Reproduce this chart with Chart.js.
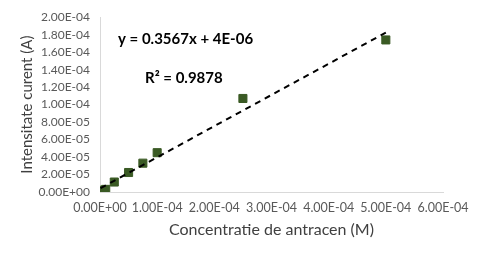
<!DOCTYPE html>
<html>
<head>
<meta charset="utf-8">
<script src="https://cdn.jsdelivr.net/npm/chart.js@4/dist/chart.umd.min.js"></script>
<style>
  html, body { margin: 0; padding: 0; background: #fff; }
  #wrap { width: 477px; height: 256px; }
</style>
</head>
<body>
<div id="wrap"><canvas id="chart" width="477" height="256"></canvas></div>
<script>
// data
const concentration = [0.000001, 0.000005, 0.00001, 0.000025, 0.00005, 0.000075, 0.0001, 0.00025, 0.0005];
const current = [0.0000005, 0.000002, 0.000003, 0.0000114, 0.0000223, 0.000033, 0.000045, 0.000107, 0.000174];
// trendline endpoints (y = 0.3567x + 4E-06)
const trendX = [0.000001, 0.0005];
const trendY = [0.0000044, 0.0001824];

const equationText = 'y = 0.3567x + 4E-06';
const r2Text = 'R² = 0.9878';

const font = 'Lato, Calibri, "Open Sans", sans-serif';

function sci(v) {
    // Excel style 0.00E+00
    let s = Number(v).toExponential(2).toUpperCase();
    return s.replace(/E([+-])(\d)$/, 'E$10$2');
}

const labelsPlugin = {
    id: 'trendLabels',
    afterDatasetsDraw(chart) {
        const c = chart.ctx;
        const a = chart.chartArea;
        c.save();
        c.fillStyle = '#000';
        c.font = 'bold 15px ' + font;
        c.textBaseline = 'middle';
        c.fillText(equationText, a.left + 18, 39);
        c.fillText(r2Text, a.left + 45, 78);
        c.restore();
    }
};

const ctx = document.getElementById('chart').getContext('2d');
const chart = new Chart(ctx, {
    type: 'scatter',
    data: {
        datasets: [
            {
                label: 'trend',
                type: 'line',
                data: trendX.map((x, i) => ({ x: x, y: trendY[i] })),
                borderColor: '#000',
                borderWidth: 2,
                borderDash: [6, 5],
                pointRadius: 0,
                fill: false,
                order: 0
            },
            {
                label: 'Intensitate curent',
                data: concentration.map((x, i) => ({ x: x, y: current[i] })),
                pointStyle: 'rect',
                pointRadius: 5.7,
                backgroundColor: '#3a5a24',
                borderColor: '#3a5a24',
                borderWidth: 1,
                order: 1
            }
        ]
    },
    options: {
        responsive: false,
        animation: false,
        layout: { padding: { left: 14, right: 34, top: 16, bottom: 13 } },
        plugins: {
            legend: { display: false },
            tooltip: { enabled: false }
        },
        scales: {
            x: {
                type: 'linear',
                min: 0,
                max: 0.0006,
                grid: { display: false, drawTicks: false },
                border: { display: true, color: '#d9d9d9', width: 1 },
                ticks: {
                    stepSize: 0.0001,
                    padding: 8,
                    autoSkip: false,
                    color: '#595959',
                    font: { family: font, size: 12.5 },
                    maxRotation: 0,
                    callback: v => sci(v)
                },
                title: {
                    display: true,
                    text: 'Concentratie de antracen (M)',
                    color: '#404040',
                    font: { family: font, size: 16 }
                },
                afterFit: s => { s.height = 51; }
            },
            y: {
                min: 0,
                max: 0.0002,
                grid: { display: false, drawTicks: false },
                border: { display: true, color: '#d9d9d9', width: 1 },
                ticks: {
                    stepSize: 0.00002,
                    padding: 10,
                    autoSkip: false,
                    color: '#595959',
                    font: { family: font, size: 12 },
                    callback: v => sci(v)
                },
                title: {
                    display: true,
                    text: 'Intensitate curent (A)',
                    color: '#404040',
                    font: { family: font, size: 15 }
                },
                afterFit: s => { s.width = 86; }
            }
        }
    },
    plugins: [labelsPlugin]
});
</script>
</body>
</html>
